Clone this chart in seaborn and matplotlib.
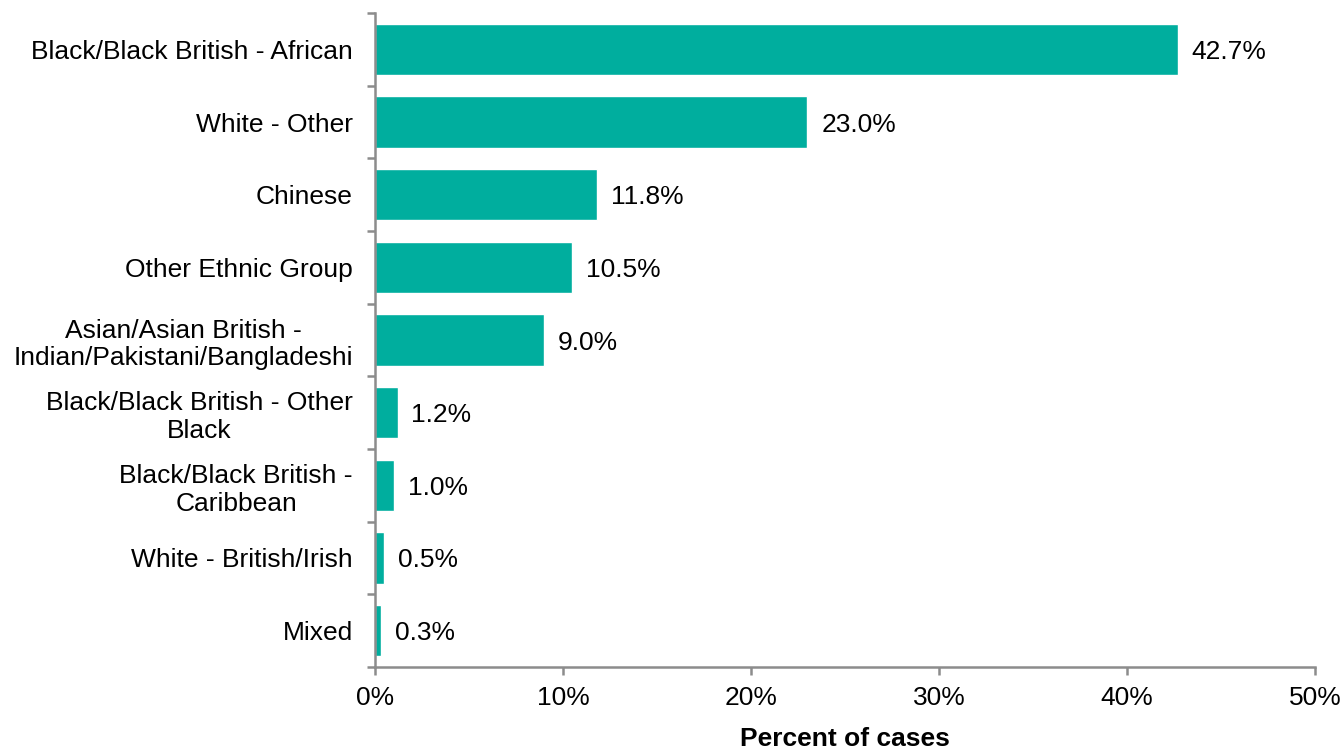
import matplotlib
matplotlib.use("Agg")
import matplotlib.pyplot as plt
import seaborn as sns
import pandas as pd
import numpy as np
from matplotlib.ticker import FixedLocator, PercentFormatter

categories = [
    "Black/Black British - African",
    "White - Other",
    "Chinese",
    "Other Ethnic Group",
    "Asian/Asian British -\nIndian/Pakistani/Bangladeshi",
    "Black/Black British - Other\nBlack",
    "Black/Black British -\nCaribbean",
    "White - British/Irish",
    "Mixed",
]
percent = [42.7, 23.0, 11.8, 10.5, 9.0, 1.2, 1.0, 0.5, 0.3]
x_ticks = [0, 10, 20, 30, 40, 50]

df = pd.DataFrame({"group": categories, "pct": percent})

sns.set_theme(style="white")
plt.rcParams["font.family"] = ["Liberation Sans", "DejaVu Sans"]

BAR = "#00AE9E"
AXIS = "#8C8C8C"
FS = 19

fig = plt.figure(figsize=(13.44, 7.49), dpi=100)
ax = fig.add_axes([0.279, 0.1095, 0.6995, 0.8731])

sns.barplot(data=df, x="pct", y="group", orient="h", color=BAR,
            saturation=1, width=0.71, ax=ax)

ax.set_xlim(0, 50)
ax.set_ylim(len(categories) - 0.5, -0.5)

ax.xaxis.set_major_locator(FixedLocator(x_ticks))
ax.xaxis.set_major_formatter(PercentFormatter(decimals=0))

# category labels at centres, tick marks on the boundaries between bars
ax.set_yticks(range(len(categories)))
ax.set_yticklabels(categories, ha="right", multialignment="center")
ax.set_yticks(np.arange(-0.5, len(categories), 1.0), minor=True)
ax.tick_params(axis="y", which="both", left=True)
ax.tick_params(axis="x", which="major", bottom=True)
ax.tick_params(axis="y", which="major", length=0, pad=16, labelsize=FS, colors="black")
ax.tick_params(axis="y", which="minor", length=6, width=1.8, color=AXIS, direction="out")
ax.tick_params(axis="x", which="major", length=6, width=1.8, color=AXIS, direction="out",
               labelsize=FS, pad=8, labelcolor="black")

for side in ("top", "right"):
    ax.spines[side].set_visible(False)
for side in ("left", "bottom"):
    ax.spines[side].set_color(AXIS)
    ax.spines[side].set_linewidth(1.8)

ax.set_ylabel("")
ax.set_xlabel("Percent of cases", fontsize=FS, fontweight="bold", labelpad=12, color="black")

for i, v in enumerate(percent):
    ax.annotate(f"{v:.1f}%", xy=(v, i), xytext=(10, 0), textcoords="offset points",
                ha="left", va="center_baseline", fontsize=FS, color="black")

fig.savefig("out.png", dpi=100)
